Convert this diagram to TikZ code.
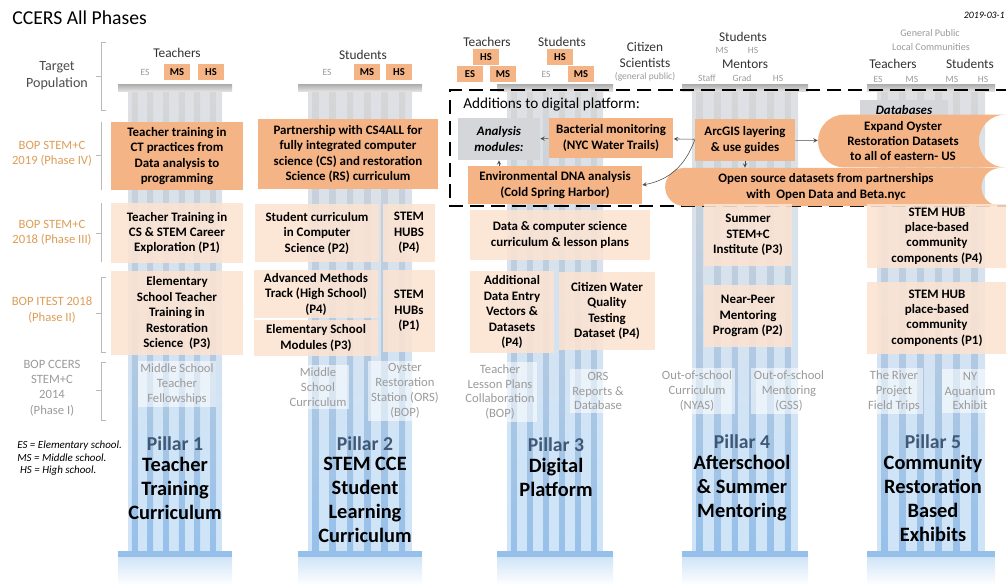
\documentclass[tikz,border=0pt]{standalone}
\usepackage{fontspec}
\setmainfont{Carlito}
\usetikzlibrary{shapes.misc, arrows}
\definecolor{orng}{RGB}{244,180,134}
\definecolor{pale}{RGB}{252,228,210}
\definecolor{gbox}{RGB}{212,214,218}
\definecolor{phasec}{RGB}{220,158,88}
\definecolor{greyt}{RGB}{155,155,155}
\definecolor{colgrey}{RGB}{222,224,227}
\definecolor{colblue}{RGB}{208,228,247}
\definecolor{stripe}{RGB}{150,192,234}
\definecolor{pilt}{RGB}{64,88,118}
\tikzstyle{blocko} = [rectangle, fill=orng, align=center, inner sep=1pt, font=\fontsize{9.2}{11}\selectfont\bfseries]
\tikzstyle{blockp} = [blocko, fill=pale, fill opacity=0.88, text opacity=1]
\tikzstyle{blockg} = [blocko, fill=gbox, font=\fontsize{9.2}{11}\selectfont\bfseries\itshape]
\tikzstyle{banner} = [blocko, rounded rectangle, rounded rectangle right arc=concave]
\tikzstyle{tag} = [rectangle, fill=orng, minimum width=0.66cm, minimum height=0.38cm, inner sep=0, font=\fontsize{7.5}{8}\selectfont\bfseries]
\tikzstyle{tagn} = [inner sep=0, text=greyt, font=\fontsize{6.8}{8}\selectfont]
\tikzstyle{head} = [inner sep=0, align=center, text=black!80, font=\fontsize{9.5}{11}\selectfont]
\tikzstyle{old} = [inner sep=2pt, align=center, text=greyt, fill=white, fill opacity=0.55, text opacity=1, font=\fontsize{9}{10.6}\selectfont]
\tikzstyle{phase} = [inner sep=0, align=center, text=phasec, font=\fontsize{9}{11}\selectfont]
\tikzstyle{pillar} = [inner sep=0, text=pilt, font=\fontsize{14}{16}\selectfont\bfseries]
\tikzstyle{ptitle} = [inner sep=0, align=center, anchor=north, font=\fontsize{14.5}{17}\selectfont\bfseries]
\tikzstyle{brk} = [draw=gray!55, line width=0.6pt]
\tikzstyle{line} = [draw=gray!60!black, ->, >=stealth, thin]
\begin{document}
\begin{tikzpicture}[x=0.025cm, y=-0.025cm]
\useasboundingbox (0,0) rectangle (1006,585);
\clip (0,0) rectangle (1006,585);
\fill[white] (0,0) rectangle (1006,585);

\foreach \a/\b in {128/222, 308/412, 507/603, 692/798, 877/985}{
  \shade[top color=colgrey, bottom color=colblue] (\a,90) rectangle (\b,440);
  \fill[colblue] (\a,440) rectangle (\b,553);
  \foreach \k in {0,...,5}
    \shade[top color=gray!32, bottom color=stripe] ({\a+(\b-\a)*(\k+0.25)/6},90) rectangle ({\a+(\b-\a)*(\k+0.6)/6},553);
  \shade[top color=gray!65, bottom color=gray!25] (\a-10,84) rectangle (\b+10,91);
  \fill[stripe] (\a-10,551) rectangle (\b+10,557);
  \shade[top color=colblue, bottom color=white] (\a-10,557) rectangle (\b+10,585);
}

\node[anchor=west, inner sep=0, font=\fontsize{14}{16}\selectfont] (title) at (12,18) {CCERS All Phases};
\node[anchor=east, inner sep=0, font=\fontsize{7}{8}\selectfont\itshape] (date) at (1005,15) {2019-03-1};

\node[head, text=gray!60!black, font=\fontsize{10}{12}\selectfont] (tp) at (57,76) {Target\\Population};
\node[phase] (ph4) at (52,154) {BOP STEM+C\\2019 (Phase IV)};
\node[phase] (ph3) at (52,233) {BOP STEM+C\\2018 (Phase III)};
\node[phase] (ph2) at (52,310) {BOP ITEST 2018\\(Phase II)};
\node[phase, text=greyt] (ph1) at (52,388) {BOP CCERS\\STEM+C\\2014\\(Phase I)};
\draw[brk] (106,42) -- (101,42) -- (101,110) -- (106,110) (101,76) -- (96,76);
\draw[brk] (101,122) -- (101,190) (101,155) -- (96,155);
\draw[brk] (101,203) -- (101,262) (101,233) -- (96,233);
\draw[brk] (106,277) -- (101,277) -- (101,352) -- (106,352) (101,313) -- (96,313);
\draw[brk] (106,362) -- (101,362) -- (101,420) -- (106,420) (101,390) -- (96,390);
\node[anchor=north west, align=left, inner sep=0, font=\fontsize{7.8}{8.9}\selectfont\itshape] (key) at (17,441) {ES = Elementary school.\\MS = Middle school.\\\hspace{2pt}HS = High school.};

\node[head] (h1) at (177,53) {Teachers};
\node[tagn] (h1es) at (145,72) {ES};
\node[tag] (h1ms) at (177,72) {MS};
\node[tag] (h1hs) at (211,72) {HS};

\node[head] (h2) at (363,55) {Students};
\node[tagn] (h2es) at (327,72) {ES};
\node[tag] (h2ms) at (367,72) {MS};
\node[tag] (h2hs) at (399,72) {HS};

\node[head] (h3t) at (487,42) {Teachers};
\node[tag] (h3ths) at (486,57) {HS};
\node[tag] (h3tes) at (470,74) {ES};
\node[tag] (h3tms) at (503,74) {MS};
\node[head] (h3s) at (562,42) {Students};
\node[tag] (h3shs) at (560,57) {HS};
\node[tagn] (h3ses) at (546,74) {ES};
\node[tag] (h3sms) at (581,74) {MS};
\node[head] (h3c) at (645,55) {Citizen\\Scientists};
\node[tagn] (h3cg) at (645,77) {(general public)};

\node[head] (h4s) at (743,37) {Students};
\node[tagn] (h4ms) at (722,50) {MS};
\node[tagn] (h4hs) at (753,50) {HS};
\node[head] (h4m) at (745,64) {Mentors};
\node[tagn] (h4st) at (707,78) {Staff};
\node[tagn] (h4gr) at (742,78) {Grad};
\node[tagn] (h4mhs) at (778,78) {HS};

\node[tagn, font=\fontsize{7.2}{8}\selectfont] (h5g) at (930,33) {General Public};
\node[tagn, font=\fontsize{7.2}{8}\selectfont] (h5l) at (931,47) {Local Communities};
\node[head] (h5t) at (893,64) {Teachers};
\node[head] (h5s) at (970,64) {Students};
\node[tagn] (h5es) at (878,79) {ES};
\node[tagn] (h5ms) at (912,79) {MS};
\node[tagn] (h5sms) at (952,79) {MS};
\node[tagn] (h5shs) at (983,79) {HS};

\draw[black, line width=1.8pt, dash pattern=on 10pt off 5pt] (1010,90) -- (450,90) -- (450,206) -- (1010,206);
\node[anchor=west, inner sep=0, font=\fontsize{10.8}{12}\selectfont] (add) at (463,105) {Additions to digital platform:};

\node[blocko, minimum width=3.28cm, minimum height=1.7cm] (T4) at (177,156) {Teacher training in\\CT practices from\\Data analysis to\\programming};
\node[blocko, minimum width=4.48cm, minimum height=1.75cm] (S4) at (348,154) {Partnership with CS4ALL for\\fully integrated computer\\science (CS) and restoration\\Science (RS) curriculum};
\node[blockg, minimum width=2.05cm, minimum height=1.05cm] (ana) at (499,139) {Analysis\\modules:};
\node[blocko, minimum width=3.12cm, minimum height=1cm] (bac) at (611,138) {Bacterial monitoring\\(NYC Water Trails)};
\node[blocko, minimum width=2.5cm, minimum height=1.05cm] (arc) at (745,140) {ArcGIS layering\\\& use guides};
\node[blockg, minimum width=2.2cm, minimum height=0.5cm] (dat) at (904,110) {Databases};
\node[banner, minimum width=4.75cm, minimum height=1.32cm] (exp) at (903,141) {Expand Oyster\\Restoration Datasets\\to all of eastern- US};
\node[blocko, minimum width=4.35cm, minimum height=0.95cm] (env) at (555,185) {Environmental DNA analysis\\(Cold Spring Harbor)};
\node[banner, minimum width=8.45cm, minimum height=0.95cm] (opn) at (826,187) {Open source datasets from partnerships\\with\ \ Open Data and Beta.nyc};

\path [line] (bac) -- (ana);
\path [line] (arc) -- (bac);
\path [line] (arc) -- (exp);
\path [line] (arc.south) -- (arc.south |- opn.north);
\path [line] (env.north -| ana) -- (ana.south);
\path [line] (arc.west) to[out=250, in=10] (env.east);

\node[blockp, minimum width=3.28cm, minimum height=1.5cm] (T3) at (177,233) {Teacher Training in\\CS \& STEM Career\\Exploration (P1)};
\node[blockp, minimum width=3.12cm, minimum height=1.45cm] (S3a) at (317,233) {Student curriculum\\in Computer\\Science (P2)};
\node[blockp, minimum width=1.3cm, minimum height=1.45cm] (S3b) at (409,233) {STEM\\HUBS\\(P4)};
\node[blockp, minimum width=4.5cm, minimum height=1.25cm] (D3) at (560,235) {Data \& computer science\\curriculum \& lesson plans};
\node[blockp, minimum width=2.2cm, minimum height=1.55cm] (M3) at (748,235) {Summer\\STEM+C\\Institute (P3)};
\node[blockp, minimum width=3.5cm, minimum height=1.6cm] (C3) at (937,236) {STEM HUB\\place-based\\community\\components (P4)};

\node[blockp, minimum width=3.28cm, minimum height=2.1cm] (T2) at (177,313) {Elementary\\School Teacher\\Training in\\Restoration\\Science\ \ (P3)};
\node[blockp, minimum width=3.08cm, minimum height=1.2cm] (S2a) at (316,294) {Advanced Methods\\Track (High School)\\(P4)};
\node[blockp, minimum width=3.08cm, minimum height=0.9cm] (S2b) at (316,338) {Elementary School\\Modules (P3)};
\node[blockp, minimum width=1.3cm, minimum height=2.05cm] (S2c) at (409,311) {STEM\\HUBs\\(P1)};
\node[blockp, minimum width=2.1cm, minimum height=2.05cm] (D2a) at (512,312) {Additional\\Data Entry\\Vectors \&\\Datasets\\(P4)};
\node[blockp, minimum width=2.38cm, minimum height=1.95cm] (D2b) at (607,311) {Citizen Water\\Quality\\Testing\\Dataset (P4)};
\node[blockp, minimum width=2.2cm, minimum height=1.55cm] (M2) at (748,316) {Near-Peer\\Mentoring\\Program (P2)};
\node[blockp, minimum width=3.5cm, minimum height=1.8cm] (C2) at (937,318) {STEM HUB\\place-based\\community\\components (P1)};

\node[old] (T1) at (177,384) {Middle School\\Teacher\\Fellowships};
\node[old] (S1a) at (318,387) {Middle\\School\\Curriculum};
\node[old] (S1b) at (405,391) {Oyster\\Restoration\\Station (ORS)\\(BOP)};
\node[old] (D1a) at (500,392) {Teacher\\Lesson Plans\\Collaboration\\(BOP)};
\node[old] (D1b) at (598,391) {ORS\\Reports \&\\Database};
\node[old] (M1a) at (697,391) {Out-of-school\\Curriculum\\(NYAS)};
\node[old] (M1b) at (789,391) {Out-of-school\\Mentoring\\(GSS)};
\node[old] (C1a) at (894,391) {The River\\Project\\Field Trips};
\node[old] (C1b) at (970,391) {NY\\Aquarium\\Exhibit};

\node[pillar] (pl1) at (175,444) {Pillar 1};
\node[ptitle] (pt1) at (175,457) {Teacher\\Training\\Curriculum};
\node[pillar] (pl2) at (365,444) {Pillar 2};
\node[ptitle] (pt2) at (365,457) {STEM CCE\\Student\\Learning\\Curriculum};
\node[pillar] (pl3) at (556,445) {Pillar 3};
\node[ptitle] (pt3) at (556,458) {Digital\\Platform};
\node[pillar] (pl4) at (742,442) {Pillar 4};
\node[ptitle] (pt4) at (742,455) {Afterschool\\\& Summer\\Mentoring};
\node[pillar] (pl5) at (933,442) {Pillar 5};
\node[ptitle] (pt5) at (933,455) {Community\\Restoration\\Based\\Exhibits};
\end{tikzpicture}
\end{document}
